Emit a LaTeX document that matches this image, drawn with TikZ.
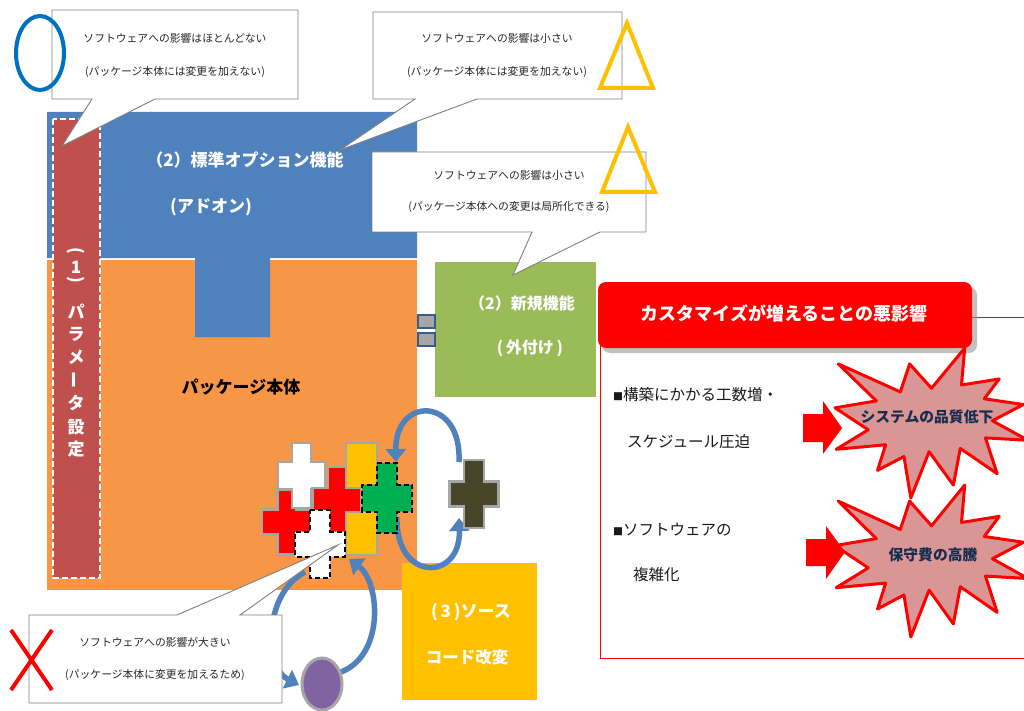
\documentclass[tikz,border=0pt]{standalone}
\usepackage{fontspec}
\usepackage{graphicx}
\newfontfamily\jp{Noto Sans CJK JP}
\usetikzlibrary{arrows.meta}
\definecolor{cblue}{RGB}{79,129,189}
\definecolor{corange}{RGB}{247,150,70}
\definecolor{cparam}{RGB}{192,80,77}
\definecolor{cgreen}{RGB}{155,187,89}
\definecolor{cyel}{RGB}{255,192,0}
\definecolor{cgray}{RGB}{128,128,128}
\definecolor{lgray}{RGB}{166,166,166}
\definecolor{cpurple}{RGB}{128,100,162}
\definecolor{cdark}{RGB}{73,69,41}
\definecolor{cgreencross}{RGB}{0,176,80}
\definecolor{starfill}{RGB}{217,150,148}
\definecolor{navy}{RGB}{23,45,80}
\definecolor{pred}{RGB}{255,0,0}
\definecolor{oblue}{RGB}{0,112,192}
\definecolor{sqborder}{RGB}{56,93,138}
\tikzset{
  pics/crossp/.style args={#1/#2/#3/#4}{code={
    \path[pic actions] (-#3,-#2) -- (#3,-#2) -- (#3,-#4) -- (#1,-#4) -- (#1,#4) -- (#3,#4) -- (#3,#2) -- (-#3,#2) -- (-#3,#4) -- (-#1,#4) -- (-#1,-#4) -- (-#3,-#4) -- cycle;}},
  pics/burst/.style={code={
    \path[pic actions] (108,58) -- (145.22,0) -- (141.55,53.25) -- (183.80,44.57) -- (167.02,73.15) -- (210.97,81.37) -- (176.07,104.75) -- (216,132.90) -- (168.37,129.42) -- (181.45,180.95) -- (140.20,144.57) -- (132.47,197.37) -- (105.32,149.35) -- (84.85,216) -- (77.15,156.27) -- (47.62,176.17) -- (56.67,139.37) -- (1.35,145.87) -- (37.22,117.75) -- (0,86.15) -- (46.27,76.17) -- (3.70,22.95) -- (73.12,63.20) -- (83.52,22.95) -- cycle;}}
}
\begin{document}
\begin{tikzpicture}[x=1pt,y=-1pt,
  callout/.style={fill=white, draw=cgray, line width=0.9pt, line join=miter},
  ctext/.style={font=\jp\fontsize{10.8}{13}\selectfont, text=black!85, inner sep=0pt},
  wlabel/.style={font=\jp\bfseries\fontsize{17}{20}\selectfont, text=white, inner sep=0pt},
  blabel/.style={font=\jp\bfseries\fontsize{17}{20}\selectfont, text=black, inner sep=0pt},
  vlabel/.style={font=\jp\bfseries\fontsize{17}{20}\selectfont, text=white, inner sep=0pt},
  btext/.style={font=\jp\fontsize{15.5}{18}\selectfont, text=black!90, inner sep=0pt},
  stext/.style={font=\jp\bfseries\fontsize{14.8}{17}\selectfont, text=navy, inner sep=0pt},
  arcarrow/.style={draw=cblue, line width=5.5pt, -{Triangle[width=20pt,length=13pt]}},
  crossgray/.style={draw=lgray, line width=2.5pt, line join=miter},
  crossdash/.style={draw=black, line width=2pt, dash pattern=on 5pt off 3pt, line join=miter},
  sym/.style={line width=4pt, line join=miter}]
\useasboundingbox (0,0) rectangle (1024,711);
\fill[white] (0,0) rectangle (1024,711);

% main blocks
\fill[corange] (47,260) rectangle (417,590);
\fill[cblue] (47,112) -- (417,112) -- (417,258) -- (270,258) -- (270,337) -- (195,337) -- (195,258) -- (47,258) -- cycle;
\draw[fill=cparam, draw=white, line width=2pt, dash pattern=on 6pt off 3pt] (53,119) rectangle (100,578);

\node[wlabel] (std) at (245,160) {（2）標準オプション機能};
\node[wlabel] (addon) at (211,207) {(アドオン)};
\node[blabel] (pkg) at (241,387) {パッケージ本体};

% vertical label
\node[vlabel] (v1) at (76,252) {\rotatebox[origin=c]{-90}{(}};
\node[vlabel] (v2) at (76,267) {1};
\node[vlabel] (v3) at (76,281) {\rotatebox[origin=c]{-90}{)}};
\node[vlabel] (v4) at (76,312) {パ};
\node[vlabel] (v5) at (76,334) {ラ};
\node[vlabel] (v6) at (76,357) {メ};
\node[vlabel] (v7) at (76,380) {\rotatebox[origin=c]{90}{ー}};
\node[vlabel] (v8) at (76,403) {タ};
\node[vlabel] (v9) at (76,427) {設};
\node[vlabel] (v10) at (76,449) {定};

% new function block
\fill[cgreen] (435,262) rectangle (596,397);
\node[wlabel, font=\jp\bfseries\fontsize{16}{19}\selectfont] (newf) at (522,303) {（2）新規機能};
\node[wlabel, font=\jp\bfseries\fontsize{16}{19}\selectfont] (ext) at (530,348) {(\,外付け\,)};
\draw[fill=lgray, draw=sqborder, line width=2pt] (418,315) rectangle (435,328);
\draw[fill=lgray, draw=sqborder, line width=2pt] (418,333) rectangle (435,346);

% source code block
\fill[cyel] (402,563) rectangle (537,700);
\node[wlabel] (src1) at (471,612) {(\,3\,)ソース};
\node[wlabel, font=\jp\bfseries\fontsize{16.5}{19}\selectfont] (src2) at (467,657) {コード改変};

% curved arrows
\draw[arcarrow] (459,462) .. controls (462,396) and (395,396) .. (396,462);
\draw[arcarrow] (397,517) .. controls (395,582) and (461,582) .. (459,518);
\draw[arcarrow] (305,572) .. controls (262,595) and (265,668) .. (299,685);
\draw[arcarrow] (341,672) .. controls (385,655) and (380,582) .. (349,559);

% crosses
\pic[crossgray, fill=pred] at (287,522) {crossp=25/32.5/9.5/12.5};
\pic[crossgray, fill=white] at (301.5,475.5) {crossp=23.5/32.5/9.5/13.5};
\draw[crossgray, fill=cyel] (346,443) rectangle (377,555);
\pic[crossgray, fill=pred] at (337,500) {crossp=24.5/33/9/12};
\pic[crossdash, fill=white] at (320,544) {crossp=25/34/10/12.5};
\pic[crossdash, fill=cgreencross] at (387,498) {crossp=25/35/10/13.5};
\pic[crossgray, fill=cdark] at (474,494) {crossp=24.5/34/10/12.5};
\draw[fill=cpurple, draw=lgray, line width=3pt] (322,684) ellipse [x radius=20, y radius=26];

% callouts
\draw[callout] (52,10) -- (298,10) -- (298,99) -- (155,99) -- (62,146) -- (92,99) -- (52,99) -- cycle;
\node[ctext] (c1a) at (175,38) {ソフトウェアへの影響はほとんどない};
\node[ctext] (c1b) at (175,72) {(パッケージ本体には変更を加えない)};

\draw[callout] (373,12) -- (622,12) -- (622,99) -- (477,99) -- (340,150) -- (415,99) -- (373,99) -- cycle;
\node[ctext] (c2a) at (497,38) {ソフトウェアへの影響は小さい};
\node[ctext] (c2b) at (497,72) {(パッケージ本体には変更を加えない)};

\draw[callout] (372,152) -- (646,152) -- (646,232) -- (600,232) -- (513,275) -- (532,232) -- (372,232) -- cycle;
\node[ctext] (c3a) at (509,175) {ソフトウェアへの影響は小さい};
\node[ctext] (c3b) at (509,207) {(パッケージ本体への変更は局所化できる)};

\draw[callout] (29,615) -- (177,615) -- (338,545) -- (240,615) -- (282,615) -- (282,703) -- (29,703) -- cycle;
\node[ctext] (c4a) at (155,642) {ソフトウェアへの影響が大きい};
\node[ctext] (c4b) at (155,675) {(パッケージ本体に変更を加えるため)};

% marks
\draw[sym, oblue] (40,53) ellipse [x radius=24, y radius=37];
\draw[sym, cyel] (600,88) -- (627,23) -- (653,88) -- cycle;
\draw[sym, cyel] (602,192) -- (628,127) -- (655,192) -- cycle;
\draw[sym, pred] (11,630) -- (52,690) (52,630) -- (11,690);

% right panel
\draw[pred, line width=1pt] (1030,317) -- (600,317) -- (600,658) -- (1030,658);
\fill[black!40, opacity=0.6, rounded corners=8pt] (602,287) rectangle (977,353);
\fill[pred, rounded corners=8pt] (598,282) rectangle (972,348);
\node[wlabel, font=\jp\bfseries\fontsize{18}{21}\selectfont] (title) at (784,313) {カスタマイズが増えることの悪影響};

\node[btext, anchor=west] (b1) at (613,395) {{\fontsize{10}{10}\selectfont ■}構築にかかる工数増・};
\node[btext, anchor=west] (b2) at (627,442) {スケジュール圧迫};
\node[btext, anchor=west] (b3) at (613,530) {{\fontsize{10}{10}\selectfont ■}ソフトウェアの};
\node[btext, anchor=west] (b4) at (633,575) {複雑化};

\begin{scope}[shift={(835,348)}, x=0.8935pt, y=-0.6944pt]
  \pic[draw=pred, fill=starfill, line width=3pt, line join=round] at (0,0) {burst};
\end{scope}
\begin{scope}[shift={(835,485)}, x=0.8935pt, y=-0.7037pt]
  \pic[draw=pred, fill=starfill, line width=3pt, line join=round] at (0,0) {burst};
\end{scope}
\fill[pred] (803,414) -- (823,414) -- (823,401) -- (842,428) -- (823,454) -- (823,442) -- (803,442) -- cycle;
\fill[pred] (806,539) -- (826,539) -- (826,526) -- (845,552) -- (826,579) -- (826,566) -- (806,566) -- cycle;
\node[stext] (q1) at (927,417) {システムの品質低下};
\node[stext] (q2) at (933,555) {保守費の高騰};
\end{tikzpicture}
\end{document}
